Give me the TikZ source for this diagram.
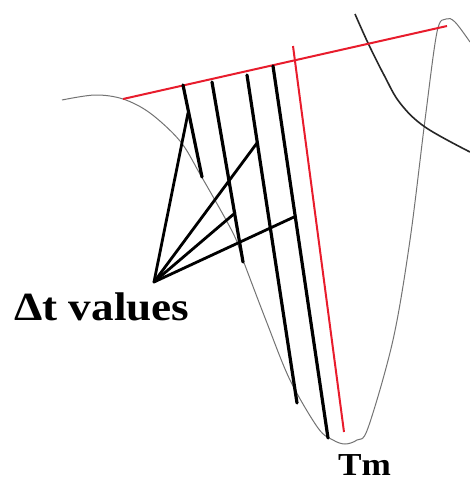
\documentclass[tikz,border=0pt]{standalone}
\usepackage{fontspec}
\setmainfont{Liberation Serif}
\definecolor{redline}{RGB}{232,28,44}
\tikzset{
  blk/.style={line width=3.2pt, black, line cap=round},
  lead/.style={line width=2.8pt, black, line cap=round},
  redl/.style={line width=2pt, redline},
  grayc/.style={line width=1pt, black!55},
  darkc/.style={line width=1.6pt, black!85},
  lbl/.style={inner sep=0pt, font=\bfseries}
}
\begin{document}
\begin{tikzpicture}[x=1pt,y=-1pt]
\useasboundingbox (0,0) rectangle (470,483);
% gray curve
\draw[grayc] plot[smooth, tension=0.55] coordinates {(62,100) (95,95) (123,99) (150,113) (180,141) (200,174) (233,233) (243,260) (267,323) (290,380) (318,428) (333,440) (345,444) (357,440) (368,428) (393,340) (410,240) (425,120) (437,32) (446,19) (455,22) (470,42)};
% dark curve top right
\draw[darkc] plot[smooth, tension=0.6] coordinates {(355,14) (368,43) (384,75) (400,103) (425,127) (470,152)};
% red lines
\coordinate (rl) at (123,99);
\coordinate (rr) at (447,26);
\coordinate (vt) at (293,46);
\coordinate (vb) at (344,432);
\draw[redl] (rl) -- (rr);
\draw[redl] (vt) -- (vb);
% black lines
\coordinate (a1) at (183,85);  \coordinate (b1) at (202,177);
\coordinate (a2) at (212,82);  \coordinate (b2) at (243,262);
\coordinate (a3) at (247,75);  \coordinate (b3) at (297,403);
\coordinate (a4) at (273,66);  \coordinate (b4) at (328,438);
\draw[blk] (a1) -- (b1);
\draw[blk] (a2) -- (b2);
\draw[blk] (a3) -- (b3);
\draw[blk] (a4) -- (b4);
% leaders
\coordinate (apex) at (154,282);
\coordinate (e1) at (188,113);
\coordinate (e2) at (257,143);
\coordinate (e3) at (235,213);
\coordinate (e4) at (294,217);
\draw[lead] (apex) -- (e1);
\draw[lead] (apex) -- (e2);
\draw[lead] (apex) -- (e3);
\draw[lead] (apex) -- (e4);
% labels
\node[lbl, anchor=base west] (dt) at (14,320) {\scalebox{1.13}[1]{\fontsize{40}{44}\selectfont Δt values}};
\node[lbl, anchor=base west] (tm) at (338,475) {\scalebox{1.1}[1]{\fontsize{32}{35}\selectfont Tm}};
\end{tikzpicture}
\end{document}
